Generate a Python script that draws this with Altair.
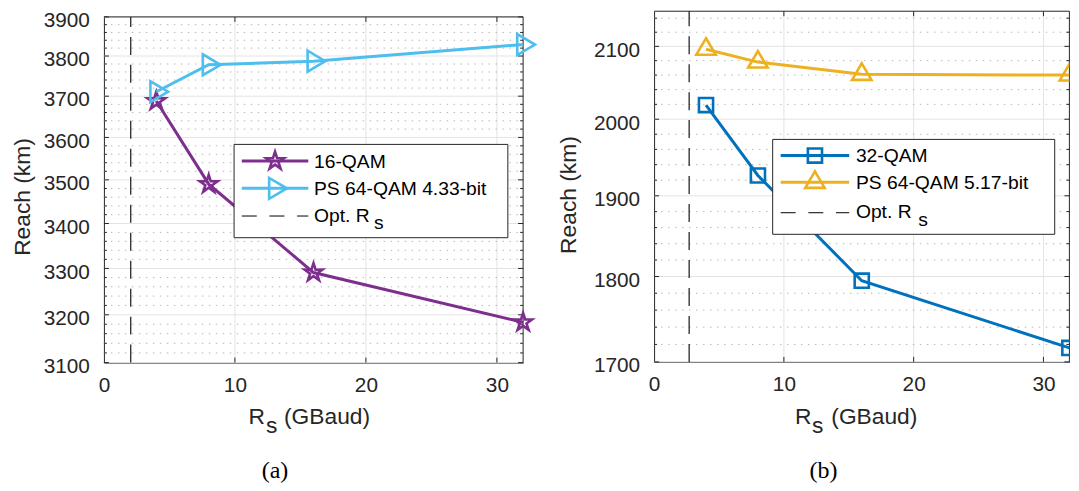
import altair as alt
import numpy as np
import pandas as pd

# ---------------- data ----------------
rs = [4, 8, 16, 32]
reach_16qam = [3688, 3490, 3291, 3184]
reach_ps433 = [3711, 3778, 3787, 3829]
reach_32qam = [2019, 1926, 1795, 1716]
reach_ps517 = [2096, 2078, 2061, 2060]
opt_rs_a = [2.05]
opt_rs_b = [2.7]

labels_a = ["16-QAM", "PS 64-QAM 4.33-bit"]
labels_b = ["32-QAM", "PS 64-QAM 5.17-bit"]
opt_label = ["Opt. R", "s"]
x_title_parts = ["R", "s", "(GBaud)"]
y_title = ["Reach (km)"]
panel_tags = ["(a)", "(b)"]

x_ticks = [0, 10, 20, 30]
x_domain = [0, 32]
y_ticks_a = [3100, 3200, 3300, 3400, 3500, 3600, 3700, 3800, 3900]
y_ticks_b = [1700, 1800, 1900, 2000, 2100]
y_domain_a = [3100, 3900]
y_domain_b = [1700, 2150]

# minor (log-axis) gridlines every 20 km
y_minor_a = [v for v in range(3120, 3900, 20) if v % 100]
y_minor_b = [v for v in range(1720, 2150, 20) if v % 100]

# ---------------- style ----------------
FONT = "Liberation Sans"
SERIF = "Liberation Serif"
AX = "#262626"
GRID = "#e3e3e3"
MINOR = "#b8b8b8"
PURPLE = "#7E2F8E"
CYAN = "#4DBEEE"
BLUE = "#0072BD"
YELLOW = "#EDB120"
TICK_FS = 20.8
LEG_FS = 19.3
TITLE_FS = 22.8


def star_path(r_in=0.38):
    pts = []
    for i in range(10):
        ang = np.pi / 2 + i * np.pi / 5
        r = 1.0 if i % 2 == 0 else r_in
        pts.append((r * np.cos(ang), -r * np.sin(ang)))
    return "M" + "L".join(f"{x:.3f},{y:.3f}" for x, y in pts) + "Z"


STAR = star_path()
TRI_UP = "M0,-1.3L1.15,0.65L-1.15,0.65Z"
TRI_RIGHT = "M1.3,0L-0.65,1.15L-0.65,-1.15Z"


def one():
    return pd.DataFrame({"k": [0]})


def panel(p):
    W, GH, TOP = p["W"], p["GH"], p["TOP"]
    clip = p["clip"]
    xs = alt.Scale(domain=x_domain, nice=False, zero=False)
    ys = alt.Scale(type="log", domain=p["ydom"], range=[GH, TOP], nice=False)
    x_axis = alt.Axis(values=x_ticks, format="d", labelFlush=False, labelOverlap=False,
                      labelPadding=13, ticks=False, tickSize=0, grid=False, domain=True)
    y_axis = alt.Axis(values=p["yticks"], format="d", labelFlush=False, labelOverlap=False,
                      labelPadding=14.5, labelOffset=3.8, ticks=False, tickSize=0,
                      grid=False, domain=True)

    def X(f):
        return alt.X(f, type="quantitative", scale=xs, axis=x_axis, title=None)

    def Y(f):
        return alt.Y(f, type="quantitative", scale=ys, axis=y_axis, title=None)

    major = pd.DataFrame({"v": p["yticks"]})
    minor = pd.DataFrame({"v": p["yminor"]})
    xt = pd.DataFrame({"v": [t for t in x_ticks if t > 0]})

    L = []
    # grids
    L.append(alt.Chart(major).mark_rule(color=GRID, strokeWidth=1).encode(
        y=Y("v"), x=alt.value(0), x2=alt.value(W)))
    L.append(alt.Chart(xt).mark_rule(color=GRID, strokeWidth=1).encode(
        x=X("v"), y=alt.value(GH), y2=alt.value(TOP)))
    L.append(alt.Chart(minor).mark_rule(color=MINOR, strokeWidth=1, strokeDash=[1.5, 5.5]).encode(
        y=Y("v"), x=alt.value(0), x2=alt.value(W)))
    # inward ticks
    for vals, ln in [(major, 5), (minor, 3)]:
        L.append(alt.Chart(vals).mark_rule(color=AX, strokeWidth=1).encode(
            y=Y("v"), x=alt.value(0), x2=alt.value(ln)))
        L.append(alt.Chart(vals).mark_rule(color=AX, strokeWidth=1).encode(
            y=Y("v"), x=alt.value(W - ln), x2=alt.value(W)))
    L.append(alt.Chart(xt).mark_rule(color=AX, strokeWidth=1).encode(
        x=X("v"), y=alt.value(GH), y2=alt.value(GH - 5)))
    L.append(alt.Chart(xt).mark_rule(color=AX, strokeWidth=1).encode(
        x=X("v"), y=alt.value(TOP), y2=alt.value(TOP + 5)))
    # frame top / right
    L.append(alt.Chart(one()).mark_rule(color=AX, strokeWidth=1).encode(
        x=alt.value(0), x2=alt.value(W), y=alt.value(TOP)))
    L.append(alt.Chart(one()).mark_rule(color=AX, strokeWidth=1).encode(
        x=alt.value(W), y=alt.value(TOP), y2=alt.value(GH)))
    # optimum symbol rate
    L.append(alt.Chart(pd.DataFrame({"v": p["opt"]})).mark_rule(
        color="black", strokeWidth=1.1, strokeDash=[18, 10]).encode(
        x=X("v"), y=alt.value(GH), y2=alt.value(TOP)))
    # series
    for s in p["series"]:
        df = pd.DataFrame({"rs": rs, "reach": s["y"]})
        L.append(alt.Chart(df).mark_line(color=s["color"], strokeWidth=3, clip=clip).encode(
            x=X("rs"), y=Y("reach")))
        L.append(alt.Chart(df).mark_point(shape=s["shape"], size=s["size"], filled=False,
                                          strokeWidth=2.6, color=s["color"], opacity=1,
                                          clip=clip).encode(
            x=X("rs"), y=Y("reach")))
    # legend
    lg = p["legend"]
    L.append(alt.Chart(one()).mark_rect(fill="white", stroke=AX, strokeWidth=1).encode(
        x=alt.value(lg["x0"]), x2=alt.value(lg["x1"]), y=alt.value(lg["y0"]), y2=alt.value(lg["y1"])))
    for i, s in enumerate(p["series"]):
        ry = lg["rows"][i]
        L.append(alt.Chart(one()).mark_rule(color=s["color"], strokeWidth=3).encode(
            x=alt.value(lg["lx0"]), x2=alt.value(lg["lx1"]), y=alt.value(ry)))
        L.append(alt.Chart(one()).mark_point(shape=s["shape"], size=s["size"], filled=False,
                                             strokeWidth=2.6, color=s["color"], opacity=1).encode(
            x=alt.value((lg["lx0"] + lg["lx1"]) / 2), y=alt.value(ry)))
        L.append(alt.Chart(pd.DataFrame({"t": [s["label"]]})).mark_text(
            align="left", baseline="alphabetic", font=FONT, fontSize=LEG_FS, color="black").encode(
            x=alt.value(lg["tx"]), y=alt.value(ry + 6.9), text="t:N"))
    L.append(alt.Chart(one()).mark_rule(color="black", strokeWidth=1, strokeDash=[15, 12.7]).encode(
        x=alt.value(lg["lx0"]), x2=alt.value(lg["lx1"]), y=alt.value(lg["rows"][2])))
    L.append(alt.Chart(pd.DataFrame({"t": [opt_label[0]]})).mark_text(
        align="left", baseline="alphabetic", font=FONT, fontSize=LEG_FS, color="black").encode(
        x=alt.value(lg["tx"]), y=alt.value(lg["opt_base"]), text="t:N"))
    L.append(alt.Chart(pd.DataFrame({"t": [opt_label[1]]})).mark_text(
        align="left", baseline="alphabetic", font=FONT, fontSize=LEG_FS, color="black").encode(
        x=alt.value(lg["sx"]), y=alt.value(lg["s_base"]), text="t:N"))
    # axis titles
    xt_pos = p["xtitle"]
    for j, part in enumerate(x_title_parts):
        base = xt_pos["base"] + (xt_pos["sub"] if j == 1 else 0)
        L.append(alt.Chart(pd.DataFrame({"t": [part]})).mark_text(
            align="left", baseline="alphabetic", font=FONT, fontSize=TITLE_FS, color=AX).encode(
            x=alt.value(xt_pos["x"][j]), y=alt.value(base), text="t:N"))
    L.append(alt.Chart(pd.DataFrame({"t": y_title})).mark_text(
        align="center", baseline="middle", angle=270, font=FONT, fontSize=TITLE_FS, color=AX).encode(
        x=alt.value(p["ytitle"][0]), y=alt.value(p["ytitle"][1]), text="t:N"))
    L.append(alt.Chart(pd.DataFrame({"t": [p["tag"]]})).mark_text(
        align="center", baseline="middle", font=SERIF, fontSize=24, color="black").encode(
        x=alt.value(p["tagpos"][0]), y=alt.value(p["tagpos"][1]), text="t:N"))

    return alt.layer(*L).properties(width=W, height=GH)


left = panel(dict(
    W=419.6, GH=351.7, TOP=5.7, ydom=y_domain_a, yticks=y_ticks_a, yminor=y_minor_a,
    opt=opt_rs_a, clip=False,
    series=[
        dict(y=reach_16qam, color=PURPLE, shape=STAR, size=350, label=labels_a[0]),
        dict(y=reach_ps433, color=CYAN, shape=TRI_RIGHT, size=330, label=labels_a[1]),
    ],
    legend=dict(x0=130.3, x1=404.3, y0=133.3, y1=226.7, rows=[150, 177.3, 205],
                lx0=138, lx1=204.6, tx=210.3, opt_base=210.7, sx=270.3, s_base=218.3),
    xtitle=dict(x=[144.8, 162.3, 180.3], base=413.5, sub=8.5),
    ytitle=(-81.3, 186),
    tag=panel_tags[0], tagpos=(171.3, 460),
))

right = panel(dict(
    W=415.7, GH=351.0, TOP=0.0, ydom=y_domain_b, yticks=y_ticks_b, yminor=y_minor_b,
    opt=opt_rs_b, clip=True,
    series=[
        dict(y=reach_32qam, color=BLUE, shape="square", size=200, label=labels_b[0]),
        dict(y=reach_ps517, color=YELLOW, shape=TRI_UP, size=285, label=labels_b[1]),
    ],
    legend=dict(x0=118.7, x1=401, y0=128.3, y1=223.3, rows=[144.5, 171.3, 201.7],
                lx0=126.7, lx1=195.3, tx=202, opt_base=207.3, sx=264.3, s_base=215),
    xtitle=dict(x=[141, 158, 177.4], base=413.5, sub=8.5),
    ytitle=(-85.5, 184),
    tag=panel_tags[1], tagpos=(169.5, 460),
))

chart = alt.hconcat(left, right, spacing=130.7, bounds="flush").properties(
    padding={"left": 3, "top": 1, "right": 0, "bottom": 0}
).configure_view(stroke="transparent").configure_axis(
    labelFont=FONT, labelFontSize=TICK_FS, labelColor=AX, domainColor=AX, domainWidth=1
)

chart.save("out.html", embed_options={"renderer": "svg", "actions": False})
